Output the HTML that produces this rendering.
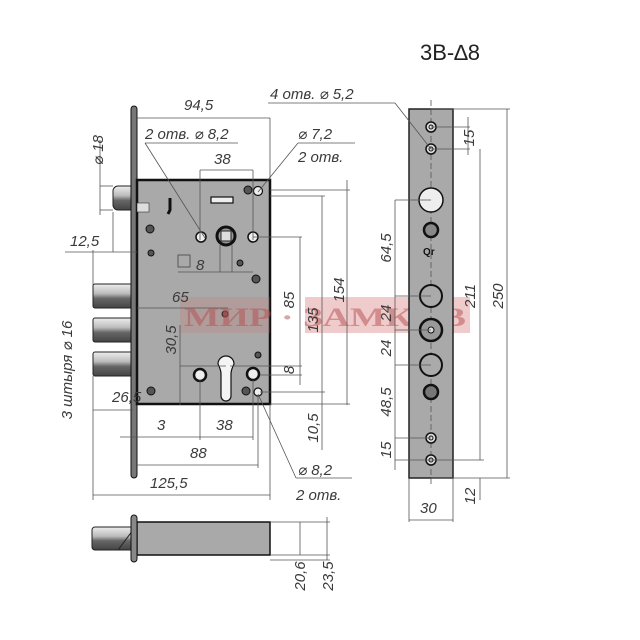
<!DOCTYPE html>
<html><head><meta charset="utf-8"><style>
html,body{margin:0;padding:0;background:#fff;}
svg{display:block}
text{font-family:"Liberation Sans","DejaVu Sans",sans-serif;font-style:italic;fill:#3a3a3a;font-size:15px}
.d{stroke:#555;stroke-width:0.8;fill:none}
.k{stroke:#111;fill:none}
</style></head><body>
<svg width="640" height="640" viewBox="0 0 640 640" xmlns="http://www.w3.org/2000/svg">
<defs>
<linearGradient id="pin" x1="0" y1="0" x2="0" y2="1"><stop offset="0" stop-color="#eee"/><stop offset="0.4" stop-color="#bbb"/><stop offset="0.6" stop-color="#666"/><stop offset="1" stop-color="#444"/></linearGradient>
</defs>
<text x="420" y="60" style="font-style:normal;font-size:22px;fill:#222">3B-∆8</text>

<rect x="113" y="186" width="22" height="24" rx="5" fill="url(#pin)" stroke="#222"/>
<rect x="93" y="284" width="42" height="24" rx="2" fill="url(#pin)" stroke="#222"/>
<rect x="93" y="318" width="42" height="24" rx="2" fill="url(#pin)" stroke="#222"/>
<rect x="93" y="352" width="42" height="24" rx="2" fill="url(#pin)" stroke="#222"/>
<rect x="131" y="106" width="6" height="372" rx="3" fill="#777" stroke="#111"/>
<rect x="137" y="180" width="133" height="224" fill="#a9a9a9" stroke="#111" stroke-width="2.5"/>
<rect x="137" y="203" width="12" height="9" fill="#ddd" stroke="#333" stroke-width="0.6"/>
<path d="M170 198 v12 l-2 4" stroke="#111" stroke-width="3" fill="none"/>
<rect x="211" y="197" width="22" height="6" fill="#eee" stroke="#111" stroke-width="1.2"/>
<circle cx="226" cy="236" r="9" fill="#999" stroke="#111" stroke-width="3"/>
<rect x="221" y="231" width="10" height="10" fill="#ddd" stroke="#222"/>
<circle cx="201" cy="237" r="5" fill="#eee" stroke="#111" stroke-width="1.5"/>
<circle cx="253" cy="237" r="5" fill="#eee" stroke="#111" stroke-width="1.5"/>
<circle cx="258" cy="191" r="4.5" fill="#eee" stroke="#111" stroke-width="1.2"/>
<circle cx="248" cy="190" r="4" fill="#555" stroke="#111"/>
<circle cx="150" cy="229" r="4" fill="#555" stroke="#111"/>
<circle cx="151" cy="253" r="3" fill="#555" stroke="#111"/>
<circle cx="240" cy="263" r="3" fill="#555" stroke="#111"/>
<circle cx="256" cy="279" r="4" fill="#555" stroke="#111"/>
<circle cx="225" cy="314" r="3" fill="#555" stroke="#111"/>
<circle cx="258" cy="355" r="3" fill="#555" stroke="#111"/>
<circle cx="151" cy="391" r="4" fill="#555" stroke="#111"/>
<circle cx="246" cy="391" r="4" fill="#555" stroke="#111"/>
<rect x="178" y="255" width="12" height="12" fill="none" stroke="#444" stroke-width="0.8"/>
<path d="M218 364 a8 8 0 1 1 16 0 q-3 6 -3 10 v22 a5 5 0 0 1 -10 0 v-22 q0 -4 -3 -10z" fill="#f4f4f4" stroke="#111" stroke-width="1.2"/>
<circle cx="200" cy="375" r="6" fill="#eee" stroke="#111" stroke-width="2.5"/>
<circle cx="253" cy="374" r="6" fill="#eee" stroke="#111" stroke-width="2.5"/>
<circle cx="258" cy="392" r="4" fill="#eee" stroke="#111" stroke-width="1.2"/>

<rect x="180" y="297" width="90" height="36" fill="#d46a6a" opacity="0.2"/>
<rect x="305" y="297" width="165" height="36" fill="#d46a6a" opacity="0.35"/>
<text x="184" y="326" textLength="282" lengthAdjust="spacingAndGlyphs" style="font-family:'Liberation Serif',serif;font-style:normal;font-weight:bold;font-size:26px;fill:#b35050;opacity:0.5">МИР · ЗАМКОВ</text>

<rect x="409" y="109" width="44" height="369" fill="#a9a9a9" stroke="#222" stroke-width="1.5"/>
<line x1="431" y1="100" x2="431" y2="485" class="d" stroke-dasharray="6 3"/>
<g stroke="#111" fill="#ddd">
<circle cx="431" cy="127" r="5" stroke-width="1.5"/><circle cx="431" cy="127" r="2"/>
<circle cx="431" cy="149" r="5" stroke-width="1.5"/><circle cx="431" cy="149" r="2"/>
<circle cx="431" cy="200" r="12" fill="#eee" stroke-width="1.5"/>
<circle cx="431" cy="230" r="7" fill="#888" stroke-width="2.5"/>
<circle cx="431" cy="296" r="11" fill="#aaa" stroke-width="2"/>
<circle cx="431" cy="330" r="11" fill="#999" stroke-width="2.5"/><circle cx="431" cy="330" r="3"/>
<circle cx="431" cy="365" r="11" fill="#aaa" stroke-width="2"/>
<circle cx="431" cy="392" r="7" fill="#777" stroke-width="2.5"/>
<circle cx="431" cy="438" r="5" stroke-width="1.5"/><circle cx="431" cy="438" r="2"/>
<circle cx="431" cy="460" r="5" stroke-width="1.5"/><circle cx="431" cy="460" r="2"/>
</g>
<text x="423" y="255" style="font-size:10px;font-weight:bold;font-style:normal;fill:#111">Qr</text>

<rect x="92" y="527" width="42" height="23" rx="3" fill="url(#pin)" stroke="#222"/>
<line x1="118" y1="550" x2="133" y2="530" stroke="#222"/>
<rect x="137" y="522" width="133" height="33" fill="#a9a9a9" stroke="#111" stroke-width="1.5"/>
<rect x="131" y="515" width="6" height="47" rx="3" fill="#888" stroke="#111"/>

<g class="d">
<line x1="137" y1="118" x2="270" y2="118"/><line x1="270" y1="118" x2="270" y2="180"/>
<line x1="145" y1="143" x2="205" y2="238"/><line x1="145" y1="143" x2="238" y2="143"/>
<line x1="298" y1="143" x2="355" y2="143"/><line x1="298" y1="143" x2="258" y2="192"/>
<line x1="200" y1="170" x2="253" y2="170"/><line x1="200" y1="170" x2="200" y2="240"/><line x1="253" y1="170" x2="253" y2="240"/>
<line x1="100" y1="180" x2="100" y2="215"/><line x1="100" y1="186" x2="113" y2="186"/><line x1="100" y1="210" x2="113" y2="210"/><line x1="100" y1="140" x2="100" y2="180"/>
<line x1="65" y1="252" x2="137" y2="252"/><line x1="113" y1="212" x2="113" y2="252"/>
<line x1="178" y1="272" x2="253" y2="272"/><line x1="220" y1="245" x2="220" y2="272"/><line x1="232" y1="245" x2="232" y2="272"/>
<line x1="137" y1="308" x2="228" y2="308"/>
<line x1="270" y1="190" x2="350" y2="190"/><line x1="270" y1="196" x2="325" y2="196"/><line x1="253" y1="237" x2="302" y2="237"/>
<line x1="300" y1="237" x2="300" y2="385"/><line x1="322" y1="196" x2="322" y2="450"/><line x1="347" y1="180" x2="347" y2="405"/>
<line x1="270" y1="404" x2="350" y2="404"/><line x1="260" y1="392" x2="325" y2="392"/><line x1="260" y1="375" x2="302" y2="375"/><line x1="230" y1="366" x2="302" y2="366"/>
<line x1="180" y1="325" x2="180" y2="405"/><line x1="180" y1="366" x2="226" y2="366"/>
<line x1="93" y1="410" x2="133" y2="410"/><line x1="93" y1="376" x2="93" y2="500"/>
<line x1="93" y1="285" x2="93" y2="250"/>
<line x1="120" y1="437" x2="253" y2="437"/><line x1="200" y1="380" x2="200" y2="440"/><line x1="253" y1="380" x2="253" y2="440"/>
<line x1="137" y1="465" x2="258" y2="465"/><line x1="258" y1="395" x2="258" y2="468"/>
<line x1="93" y1="495" x2="270" y2="495"/><line x1="270" y1="404" x2="270" y2="500"/>
<line x1="258" y1="394" x2="296" y2="478"/><line x1="296" y1="478" x2="352" y2="478"/>
<line x1="268" y1="103" x2="395" y2="103"/><line x1="395" y1="103" x2="431" y2="149"/>
<line x1="431" y1="127" x2="470" y2="127"/><line x1="431" y1="149" x2="470" y2="149"/><line x1="468" y1="117" x2="468" y2="155"/>
<line x1="431" y1="109" x2="510" y2="109"/><line x1="431" y1="478" x2="510" y2="478"/><line x1="507" y1="109" x2="507" y2="478"/>
<line x1="480" y1="149" x2="480" y2="460"/><line x1="431" y1="460" x2="484" y2="460"/><line x1="480" y1="478" x2="480" y2="500"/>
<line x1="395" y1="200" x2="431" y2="200"/><line x1="395" y1="296" x2="431" y2="296"/><line x1="395" y1="330" x2="431" y2="330"/><line x1="395" y1="365" x2="431" y2="365"/><line x1="395" y1="438" x2="431" y2="438"/><line x1="395" y1="460" x2="431" y2="460"/>
<line x1="395" y1="200" x2="395" y2="470"/>
<line x1="409" y1="478" x2="409" y2="522"/><line x1="453" y1="478" x2="453" y2="522"/><line x1="409" y1="520" x2="453" y2="520"/>
<line x1="270" y1="522" x2="330" y2="522"/><line x1="270" y1="555" x2="330" y2="555"/><line x1="300" y1="522" x2="300" y2="555"/><line x1="327" y1="517" x2="327" y2="560"/><line x1="270" y1="560" x2="330" y2="560"/>
</g>

<text x="184" y="110">94,5</text>
<text x="145" y="139">2 отв.  ⌀ 8,2</text>
<text x="298" y="139">⌀ 7,2</text>
<text x="298" y="162">2 отв.</text>
<text x="214" y="164">38</text>
<text x="196" y="270">8</text>
<text x="70" y="246">12,5</text>
<text x="172" y="302">65</text>
<text x="112" y="402">26,5</text>
<text x="157" y="430">3</text>
<text x="216" y="430">38</text>
<text x="190" y="458">88</text>
<text x="150" y="488">125,5</text>
<text x="298" y="475">⌀ 8,2</text>
<text x="296" y="500">2 отв.</text>
<text x="270" y="99">4 отв.  ⌀ 5,2</text>
<text x="420" y="513">30</text>
<text transform="translate(103,150) rotate(-90)" text-anchor="middle">⌀ 18</text>
<text transform="translate(72,370) rotate(-90)" text-anchor="middle">3 штыря  ⌀ 16</text>
<text transform="translate(176,340) rotate(-90)" text-anchor="middle">30,5</text>
<text transform="translate(294,300) rotate(-90)" text-anchor="middle">85</text>
<text transform="translate(318,320) rotate(-90)" text-anchor="middle">135</text>
<text transform="translate(344,290) rotate(-90)" text-anchor="middle">154</text>
<text transform="translate(294,370) rotate(-90)" text-anchor="middle">8</text>
<text transform="translate(318,428) rotate(-90)" text-anchor="middle">10,5</text>
<text transform="translate(474,138) rotate(-90)" text-anchor="middle">15</text>
<text transform="translate(391,248) rotate(-90)" text-anchor="middle">64,5</text>
<text transform="translate(391,313) rotate(-90)" text-anchor="middle">24</text>
<text transform="translate(391,348) rotate(-90)" text-anchor="middle">24</text>
<text transform="translate(391,402) rotate(-90)" text-anchor="middle">48,5</text>
<text transform="translate(391,450) rotate(-90)" text-anchor="middle">15</text>
<text transform="translate(475,296) rotate(-90)" text-anchor="middle">211</text>
<text transform="translate(503,296) rotate(-90)" text-anchor="middle">250</text>
<text transform="translate(475,496) rotate(-90)" text-anchor="middle">12</text>
<text transform="translate(305,576) rotate(-90)" text-anchor="middle">20,6</text>
<text transform="translate(333,576) rotate(-90)" text-anchor="middle">23,5</text>
</svg>
</body></html>
